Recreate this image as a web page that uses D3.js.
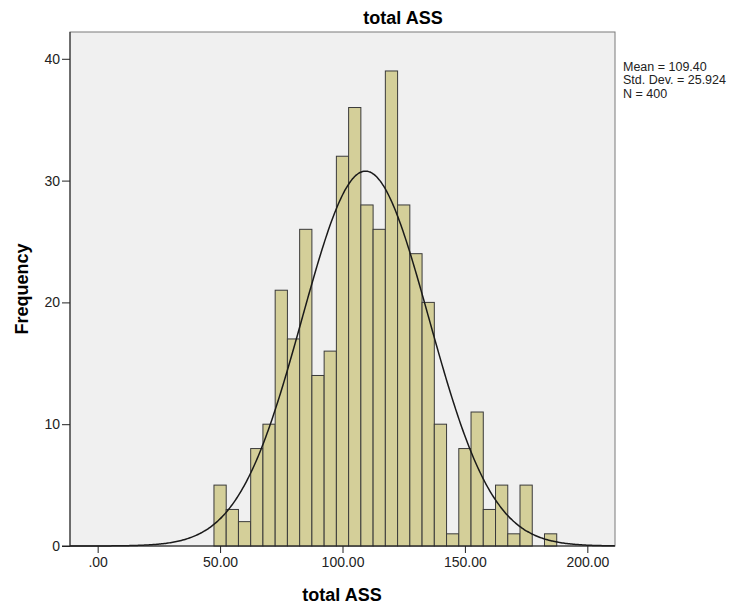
<!DOCTYPE html>
<html>
<head>
<meta charset="utf-8">
<script src="https://cdn.jsdelivr.net/npm/d3@7"></script>
<style>
  body { margin: 0; background: #fff; }
  svg text { font-family: "Liberation Sans", Arial, sans-serif; }
</style>
</head>
<body>
<div id="chart"></div>
<script>
// histogram bins (lower edge) and their frequencies
const binLower = [47.5, 52.5, 57.5, 62.5, 67.5, 72.5, 77.5, 82.5, 87.5, 92.5,
  97.5, 102.5, 107.5, 112.5, 117.5, 122.5, 127.5, 132.5, 137.5, 142.5,
  147.5, 152.5, 157.5, 162.5, 167.5, 172.5, 177.5, 182.5];
const counts = [5, 3, 2, 8, 10, 21, 17, 26, 14, 16,
  32, 36, 28, 26, 39, 28, 24, 20, 10, 1,
  8, 11, 3, 5, 1, 5, 0, 1];
const binWidth = 5;

const xTicks = [0, 50, 100, 150, 200];
const yTicks = [0, 10, 20, 30, 40];
const statLines = ["Mean = 109.40", "Std. Dev. = 25.924", "N = 400"];
const mean = 109.40, sd = 25.924, n = 400;

const W = 743, H = 607;
const plot = { left: 70, right: 615, top: 32, bottom: 546 };

const svg = d3.select("#chart").append("svg")
  .attr("width", W).attr("height", H);

const x = d3.scaleLinear().domain([-11.3, 211.3]).range([plot.left, plot.right]);
const y = d3.scaleLinear().domain([0, 42.2]).range([plot.bottom, plot.top]);

// plot background
svg.append("rect")
  .attr("x", plot.left).attr("y", plot.top)
  .attr("width", plot.right - plot.left).attr("height", plot.bottom - plot.top)
  .attr("fill", "#f0f0f0")
  .attr("stroke", "#7a7a7a").attr("stroke-width", 1);

// bars
svg.selectAll("rect.bar")
  .data(counts.map((c, i) => ({ x0: binLower[i], c })).filter(d => d.c > 0))
  .join("rect")
  .attr("class", "bar")
  .attr("x", d => x(d.x0))
  .attr("y", d => y(d.c))
  .attr("width", d => x(d.x0 + binWidth) - x(d.x0))
  .attr("height", d => y(0) - y(d.c))
  .attr("fill", "#d4cf99")
  .attr("stroke", "#3a3a3a")
  .attr("stroke-width", 1);

// fitted normal curve from the reported mean / sd / N
const pdf = v => Math.exp(-0.5 * ((v - mean) / sd) ** 2) / (sd * Math.sqrt(2 * Math.PI));
const curvePts = d3.range(x.domain()[0], x.domain()[1] + 0.01, 0.5)
  .map(v => [v, n * binWidth * pdf(v)]);
svg.append("path")
  .datum(curvePts)
  .attr("fill", "none")
  .attr("stroke", "#1a1a1a")
  .attr("stroke-width", 1.5)
  .attr("d", d3.line().x(d => x(d[0])).y(d => y(d[1])).curve(d3.curveBasis));

// x axis
const xAxis = svg.append("g")
  .attr("transform", `translate(0,${plot.bottom})`)
  .call(d3.axisBottom(x).tickValues(xTicks).tickSize(7).tickPadding(4)
    .tickFormat(d => d === 0 ? ".00" : d.toFixed(2)));
xAxis.select(".domain").remove();
xAxis.selectAll("text").style("font-size", "14px").attr("fill", "#222");
xAxis.selectAll("line").attr("stroke", "#222");
svg.append("line")
  .attr("x1", plot.left - 8).attr("x2", plot.right)
  .attr("y1", plot.bottom).attr("y2", plot.bottom)
  .attr("stroke", "#222");

// y axis
const yAxis = svg.append("g")
  .attr("transform", `translate(${plot.left},0)`)
  .call(d3.axisLeft(y).tickValues(yTicks).tickSize(8).tickPadding(2));
yAxis.select(".domain").remove();
yAxis.selectAll("text").style("font-size", "14px").attr("fill", "#222");
yAxis.selectAll("line").attr("stroke", "#222");
svg.append("line")
  .attr("x1", plot.left).attr("x2", plot.left)
  .attr("y1", plot.top).attr("y2", plot.bottom)
  .attr("stroke", "#222");

// titles
svg.append("text")
  .attr("x", 403).attr("y", 24)
  .attr("text-anchor", "middle")
  .style("font-size", "18px").style("font-weight", "bold")
  .text("total ASS");

svg.append("text")
  .attr("x", 342).attr("y", 601)
  .attr("text-anchor", "middle")
  .style("font-size", "18px").style("font-weight", "bold")
  .text("total ASS");

svg.append("text")
  .attr("transform", `translate(28,${(plot.top + plot.bottom) / 2}) rotate(-90)`)
  .attr("text-anchor", "middle")
  .style("font-size", "18px").style("font-weight", "bold")
  .text("Frequency");

// stats box
svg.append("g").selectAll("text")
  .data(statLines)
  .join("text")
  .attr("x", 623)
  .attr("y", (d, i) => 70.5 + i * 13.5)
  .style("font-size", "12.5px")
  .attr("fill", "#222")
  .text(d => d);
</script>
</body>
</html>
